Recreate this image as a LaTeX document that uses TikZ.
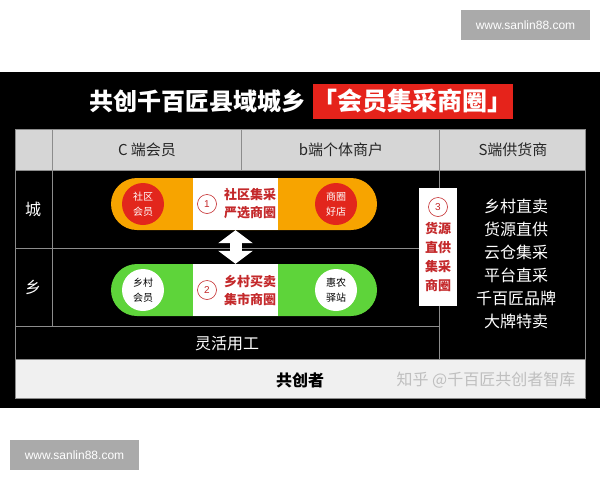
\documentclass[tikz,border=0pt]{standalone}
\usepackage{fontspec}
\setmainfont{Noto Sans CJK SC}
\newfontfamily\latin{Liberation Sans}
\usetikzlibrary{arrows.meta}

\definecolor{titlered}{HTML}{E5231B}
\definecolor{cityorange}{HTML}{F7A400}
\definecolor{ruralgreen}{HTML}{5ED43A}
\definecolor{dotred}{HTML}{E2261C}
\definecolor{inkred}{HTML}{C4292B}
\definecolor{headgray}{HTML}{D6D6D6}
\definecolor{footgray}{HTML}{F0F0F0}
\definecolor{rulegray}{HTML}{8C8C8C}
\definecolor{stampgray}{HTML}{AAAAAA}

\begin{document}
\begin{tikzpicture}[x=1pt,y=-1pt,every node/.style={inner sep=0pt}]

\tikzstyle{stamp}=[fill=stampgray, minimum width=129pt, minimum height=30pt, text=white, font=\latin\fontsize{12}{14}\selectfont];
\tikzstyle{rule}=[draw=rulegray, line width=1pt];
\tikzstyle{pill}=[minimum width=266pt, minimum height=52pt, rounded corners=26pt];
\tikzstyle{board}=[fill=white, minimum width=85pt, minimum height=52pt];
\tikzstyle{member}=[circle, minimum size=42pt, align=center, font=\fontsize{10}{15}\selectfont];
\tikzstyle{num}=[circle, draw=inkred, line width=.6pt, minimum size=19pt, text=inkred, font=\latin\fontsize{10}{10}\selectfont];
\tikzstyle{redtext}=[text=inkred, align=center, font=\bfseries\fontsize{13}{18}\selectfont];
\tikzstyle{whitetext}=[text=white, font=\fontsize{16}{19}\selectfont];
\tikzstyle{headtext}=[text=black!85, font=\fontsize{15}{18}\selectfont];

\useasboundingbox (0,0) rectangle (600,480);
\fill[black] (0,72) rectangle (600,408);

\node[stamp] (topstamp) at (525.5,25) {www.sanlin88.com};
\node[stamp] (bottomstamp) at (74.5,455) {www.sanlin88.com};

\node[text=white, font=\bfseries\fontsize{24}{26}\selectfont] (title) at (197,101) {共创千百匠县域城乡};
\node[fill=titlered, minimum width=199pt, minimum height=35pt, text=white, font=\bfseries\fontsize{25}{26}\selectfont] (titlebox) at (412.5,101.5) {「会员集采商圈」};

\fill[headgray] (15,129) rectangle (585,170);
\fill[footgray] (15,359) rectangle (585,398);
\draw[rule] (15,129) rectangle (585,398);
\draw[rule] (15,170) -- (585,170) (15,359) -- (585,359);
\draw[rule] (52,129) -- (52,326) (241,129) -- (241,170) (439,129) -- (439,359);
\draw[rule] (15,248) -- (439,248) (15,326) -- (439,326);

\node[headtext] (chead) at (147,150) {C 端会员};
\node[headtext] (bhead) at (341,150) {b端个体商户};
\node[headtext] (shead) at (513,150) {S端供货商};

\node[whitetext] (cityrow) at (33,209) {城};
\node[whitetext] (ruralrow) at (33,287) {乡};

\node[pill, fill=cityorange] (city) at (244,204) {};
\node[pill, fill=ruralgreen] (rural) at (244,290) {};

\node[board] (cityboard) at (235.5,204) {};
\node[board] (ruralboard) at (235.5,290) {};

\node[member, fill=dotred, text=white] (citymember) at (143,204) {社区\\会员};
\node[member, fill=dotred, text=white] (cityshop) at (336,204) {商圈\\好店};
\node[member, fill=white, text=black] (ruralmember) at (143,290) {乡村\\会员};
\node[member, fill=white, text=black] (ruralshop) at (336,290) {惠农\\驿站};

\node[num] (one) at (207,204) {1};
\node[num] (two) at (207,290) {2};
\node[redtext] (citytext) at (250,204) {社区集采\\严选商圈};
\node[redtext] (ruraltext) at (250,290) {乡村买卖\\集市商圈};

\draw[white, line width=12pt, {Triangle[width=34pt,length=13pt]}-{Triangle[width=34pt,length=13pt]}] (cityboard) -- (ruralboard);

\node[fill=white, minimum width=38pt, minimum height=118pt] (supply) at (438,247) {};
\node[num] (three) at (438,207) {3};
\node[redtext, font=\bfseries\fontsize{13}{19}\selectfont] (supplytext) at (438,257) {货源\\直供\\集采\\商圈};

\node[whitetext, align=center, font=\fontsize{16}{23}\selectfont] (slist) at (516,264) {乡村直卖\\货源直供\\云仓集采\\平台直采\\千百匠品牌\\大牌特卖};

\node[whitetext] (flex) at (227,343) {灵活用工};
\node[text=black, font=\bfseries\fontsize{16}{19}\selectfont] (makers) at (300,380) {共创者};
\node[text=black!25, font=\fontsize{16}{19}\selectfont] (zhihu) at (486,380) {知乎 @千百匠共创者智库};

\end{tikzpicture}
\end{document}
